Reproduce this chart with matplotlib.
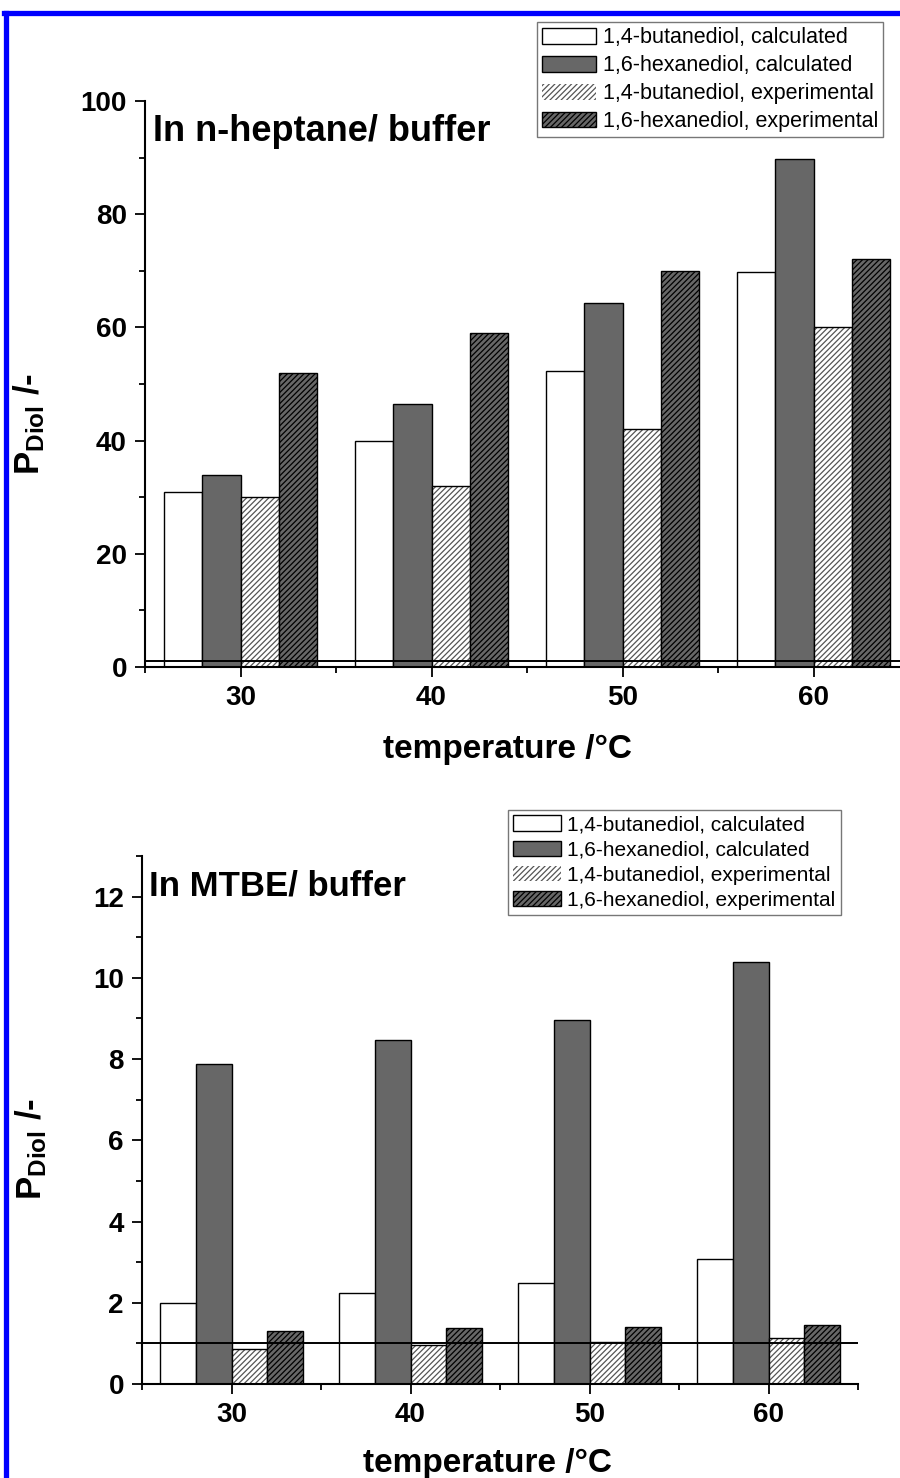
import numpy as np
import matplotlib
matplotlib.use('Agg')
import matplotlib.pyplot as plt
from matplotlib.ticker import MultipleLocator
from matplotlib.lines import Line2D

plt.rcParams['font.family'] = ['Liberation Sans', 'DejaVu Sans']
plt.rcParams['mathtext.fontset'] = 'custom'
plt.rcParams['mathtext.rm'] = 'Liberation Sans:bold'
plt.rcParams['mathtext.bf'] = 'Liberation Sans:bold'
plt.rcParams['hatch.linewidth'] = 0.9

# data
temps = [30, 40, 50, 60]
series_names = ['1,4-butanediol, calculated', '1,6-hexanediol, calculated',
                '1,4-butanediol, experimental', '1,6-hexanediol, experimental']

heptane_but_calc = [31.0, 40.0, 52.3, 69.8]
heptane_hex_calc = [33.9, 46.5, 64.3, 89.7]
heptane_but_exp = [30.0, 32.0, 42.0, 60.0]
heptane_hex_exp = [52.0, 59.0, 70.0, 72.0]

mtbe_but_calc = [1.99, 2.23, 2.48, 3.08]
mtbe_hex_calc = [7.88, 8.48, 8.95, 10.4]
mtbe_but_exp = [0.86, 0.97, 1.03, 1.14]
mtbe_hex_exp = [1.31, 1.37, 1.40, 1.45]

dark = '#676767'
W, H = 900, 1478

fig = plt.figure(figsize=(W / 100, H / 100), dpi=100)

def box(l, t, r, b):
    return [l / W, 1 - b / H, (r - l) / W, (b - t) / H]

def panel(ax, vals, ymax, ymajor, title, title_size, title_y, legend_box, fs, labelspacing, hl):
    x = np.array(temps, dtype=float)
    w = 2.0
    offs = [-3, -1, 1, 3]
    ax.bar(x + offs[0], vals[0], w, color='white', edgecolor='black', lw=1.0, label=series_names[0])
    ax.bar(x + offs[1], vals[1], w, color=dark, edgecolor='black', lw=1.0, label=series_names[1])
    ax.bar(x + offs[2], vals[2], w, color='white', edgecolor='#555555', hatch='//////', lw=0.0,
           label=series_names[2])
    ax.bar(x + offs[2], vals[2], w, fill=False, edgecolor='black', lw=1.0)
    ax.bar(x + offs[3], vals[3], w, color=dark, edgecolor='black', hatch='//////', lw=1.0,
           label=series_names[3])
    ax.axhline(1, color='black', lw=1.4)

    ax.set_xlim(25, 65)
    ax.set_ylim(0, ymax)
    ax.xaxis.set_major_locator(MultipleLocator(10))
    ax.xaxis.set_minor_locator(MultipleLocator(5))
    ax.yaxis.set_major_locator(MultipleLocator(ymajor))
    ax.yaxis.set_minor_locator(MultipleLocator(ymajor / 2))
    for s in ['top', 'right']:
        ax.spines[s].set_visible(False)
    for s in ['left', 'bottom']:
        ax.spines[s].set_linewidth(1.5)
    ax.tick_params(which='major', direction='out', length=7, width=1.3, labelsize=20, pad=6)
    ax.tick_params(which='minor', direction='out', length=4.5, width=1.3)
    for lab in ax.get_xticklabels() + ax.get_yticklabels():
        lab.set_fontweight('bold')
    ax.set_xlabel('temperature /\u00b0C', fontsize=24, fontweight='bold')
    ax.set_ylabel(r'$\mathbf{P_{Diol}}$ /-', fontsize=25, fontweight='bold')
    ax.text(0.01, title_y, title, transform=ax.transAxes, fontsize=title_size, fontweight='bold',
            va='top', ha='left')

    handles, labels = ax.get_legend_handles_labels()
    fig.legend(handles, labels, loc='upper left',
               bbox_to_anchor=(legend_box[0] / W, 1 - legend_box[1] / H),
               fontsize=fs, frameon=True, fancybox=False, edgecolor='#777777',
               framealpha=1, borderpad=0.25, labelspacing=labelspacing, handlelength=hl,
               handleheight=0.75, handletextpad=0.3, borderaxespad=0)

ax1 = fig.add_axes(box(145, 101, 909, 667))
panel(ax1, [heptane_but_calc, heptane_hex_calc, heptane_but_exp, heptane_hex_exp],
      100, 20, 'In n-heptane/ buffer', 26, 1 - 13 / 566, (537, 22), 15.5, 0.32, 2.5)
ax1.xaxis.set_label_coords(0.475, -0.118)
ax1.yaxis.set_label_coords(-0.128, 0.43)

ax2 = fig.add_axes(box(142, 856, 858, 1384))
panel(ax2, [mtbe_but_calc, mtbe_hex_calc, mtbe_but_exp, mtbe_hex_exp],
      13, 2, 'In MTBE/ buffer', 25, 1 - 13 / 528, (508, 810), 15, 0.3, 2.3)
ax2.xaxis.set_label_coords(0.483, -0.122)
ax2.yaxis.set_label_coords(-0.13, 0.445)

# blue frame
fig.add_artist(Line2D([6 / W, 6 / W], [0, 1 - 13 / H], color='#0000ff', lw=3.8))
fig.add_artist(Line2D([4 / W, 1], [1 - 13 / H, 1 - 13 / H], color='#0000ff', lw=3.8))

fig.savefig('out.png', dpi=100)
